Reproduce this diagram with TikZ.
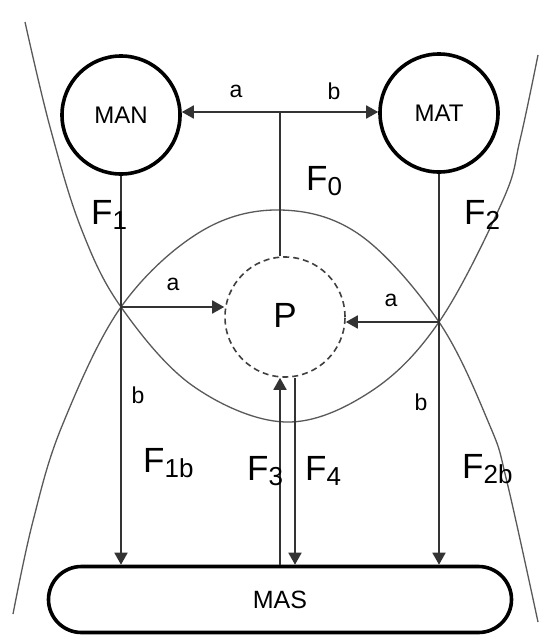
\documentclass[tikz,border=0pt]{standalone}
\usepackage{fontspec}
\setmainfont{Liberation Sans}
\usetikzlibrary{arrows.meta}
\newcommand\Fsub[1]{F\raisebox{-5pt}{\fontsize{26}{26}\selectfont #1}}
\begin{document}
\begin{tikzpicture}[x=1pt,y=-1pt,
  bigcirc/.style={circle,draw=black,line width=3.6pt,minimum size=118pt,inner sep=0pt,font=\fontsize{24}{24}\selectfont},
  pcirc/.style={circle,draw=black!75,dash pattern=on 6pt off 4pt,line width=1.6pt,minimum size=120pt,inner sep=0pt,font=\fontsize{35}{35}\selectfont},
  masbox/.style={draw=black,line width=3.6pt,rounded corners=33pt,minimum width=463pt,minimum height=66pt,inner sep=0pt,font=\fontsize{25}{25}\selectfont},
  conn/.style={line width=1.8pt,draw=black!80},
  arr/.style={conn,-{Triangle[length=12pt,width=13pt]}},
  curve/.style={line width=1.3pt,draw=black!65},
  lab/.style={font=\fontsize{23}{23}\selectfont,inner sep=0pt},
  flab/.style={anchor=base west,inner sep=0pt,font=\fontsize{35}{35}\selectfont},
]
\useasboundingbox (0,0) rectangle (540,637);
\fill[white] (0,0) rectangle (540,637);

% big curves
\draw[curve] plot[smooth,tension=0.6] coordinates {(25,22) (50,127) (81,228) (121,307) (193,386) (285,422) (370,392) (439,322) (503,200) (520,140) (538,55)};
\draw[curve] plot[smooth,tension=0.6] coordinates {(13,614) (33,521) (62,426) (121,307) (200,232) (280,210) (360,235) (439,322) (490,426) (507,482) (538,622)};

% nodes
\node[bigcirc] (MAN) at (121,115) {MAN};
\node[bigcirc] (MAT) at (439,113) {MAT};
\node[pcirc] (P) at (285,317) {\raisebox{4pt}{P}};
\node[masbox] (MAS) at (280,599.5) {MAS};

\coordinate (J) at (280,112);
\coordinate (X1) at (121,307);
\coordinate (X2) at (439,322);
\coordinate (f4) at (295,450);

% top connectors
\draw[arr] (J) -- (J -| MAN.east);
\draw[arr] (J) -- (J -| MAT.west);
\draw[conn] (J) -- (J |- P.north);

% verticals
\draw[arr] (MAN.south) -- (MAN.south |- MAS.north);
\draw[arr] (MAT.south) -- (MAT.south |- MAS.north);

% horizontals to P
\draw[arr] (X1) -- (X1 -| P.west);
\draw[arr] (X2) -- (X2 -| P.east);

% F3 / F4
\draw[arr] (MAS.north) -- (MAS.north |- P.south);
\draw[arr] (f4 |- P.south) -- (f4 |- MAS.north);

% labels
\node[lab] (la) at (236,91) {a};
\node[lab] (lb) at (334,91) {b};
\node[lab] (la1) at (173,284) {a};
\node[lab] (la2) at (391,300) {a};
\node[lab] (lb1) at (138,395) {b};
\node[lab] (lb2) at (421,402) {b};

\node[flab] (F0) at (306,190) {\Fsub{0}};
\node[flab] (F1) at (91,224) {\Fsub{1}};
\node[flab] (F2) at (464,224) {\Fsub{2}};
\node[flab] (F1b) at (143,472) {\Fsub{1b}};
\node[flab] (F3) at (247,480) {\Fsub{3}};
\node[flab] (F4) at (305,480) {\Fsub{4}};
\node[flab] (F2b) at (462,478) {\Fsub{2b}};
\end{tikzpicture}
\end{document}
